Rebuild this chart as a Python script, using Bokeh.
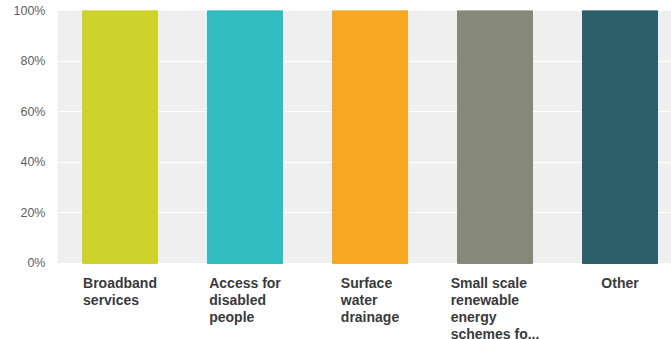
from bokeh.plotting import figure
from bokeh.models import Range1d, FixedTicker, PrintfTickFormatter, BoxAnnotation, ColumnDataSource
from bokeh.core.properties import value
from bokeh.embed import file_html
from bokeh.resources import INLINE

categories = ["Broadband\nservices", "Access for\ndisabled\npeople", "Surface\nwater\ndrainage",
              "Small scale\nrenewable\nenergy\nschemes fo...", "Other"]
values = [100, 100, 100, 100, 100]
colors = ["#cdd32a", "#31bdbf", "#f6a822", "#86887a", "#2d5f6b"]
yticks = [0, 20, 40, 60, 80, 100]

# approximate Arial/Liberation Sans Bold advance widths (per 1000 em) for centring label blocks
W = {" ": 278, ".": 278, "A": 722, "B": 722, "O": 778, "S": 667, "a": 556, "b": 611, "c": 556,
     "d": 611, "e": 556, "f": 333, "g": 611, "h": 611, "i": 278, "l": 278, "m": 889, "n": 611,
     "o": 611, "p": 611, "r": 389, "s": 556, "t": 333, "v": 556, "w": 778, "y": 556}
FONT_PX = 14
PX_PER_UNIT = 125.0


def block_width(label):
    return max(sum(W.get(ch, 600) for ch in line) for line in label.split("\n")) * FONT_PX / 1000.0


xs = list(range(len(categories)))
lx = [x - block_width(c) / 2 / PX_PER_UNIT for x, c in zip(xs, categories)]
src = ColumnDataSource(dict(x=xs, top=values, color=colors, label=categories,
                            lx=lx, ly=[-4.6] * len(xs)))

p = figure(width=671, height=339, output_backend="svg", toolbar_location=None,
           x_range=Range1d(-0.5, 4.412), y_range=Range1d(-30.04, 100),
           min_border_left=57, min_border_right=0, min_border_top=10, min_border_bottom=0)
p.outline_line_color = None
p.background_fill_color = "white"
p.border_fill_color = "white"

p.add_layout(BoxAnnotation(bottom=0, top=100, fill_color="#efefef", fill_alpha=1,
                           line_color=None, level="image"))

p.vbar(x="x", top="top", bottom=0, width=0.6, color="color", source=src)

p.text(x="lx", y="ly", text="label", source=src, text_align="left", text_baseline="top",
       text_font=value("Liberation Sans"), text_font_style="bold", text_font_size=f"{FONT_PX}px",
       text_color="#3a3a3a", text_line_height=1.07)

p.xaxis.visible = False
p.xgrid.visible = False
p.ygrid.ticker = FixedTicker(ticks=yticks)
p.ygrid.bounds = (0, 100)
p.ygrid.grid_line_color = "white"
p.ygrid.grid_line_width = 1

ya = p.yaxis[0]
ya.ticker = FixedTicker(ticks=yticks)
ya.formatter = PrintfTickFormatter(format="%d%%")
ya.axis_line_color = None
ya.major_tick_line_color = None
ya.minor_tick_line_color = None
ya.major_tick_out = 0
ya.major_label_standoff = 12
ya.major_label_text_font = "Liberation Sans"
ya.major_label_text_font_size = "12.5px"
ya.major_label_text_color = "#606060"

open("out.html", "w").write(file_html(p, INLINE))
